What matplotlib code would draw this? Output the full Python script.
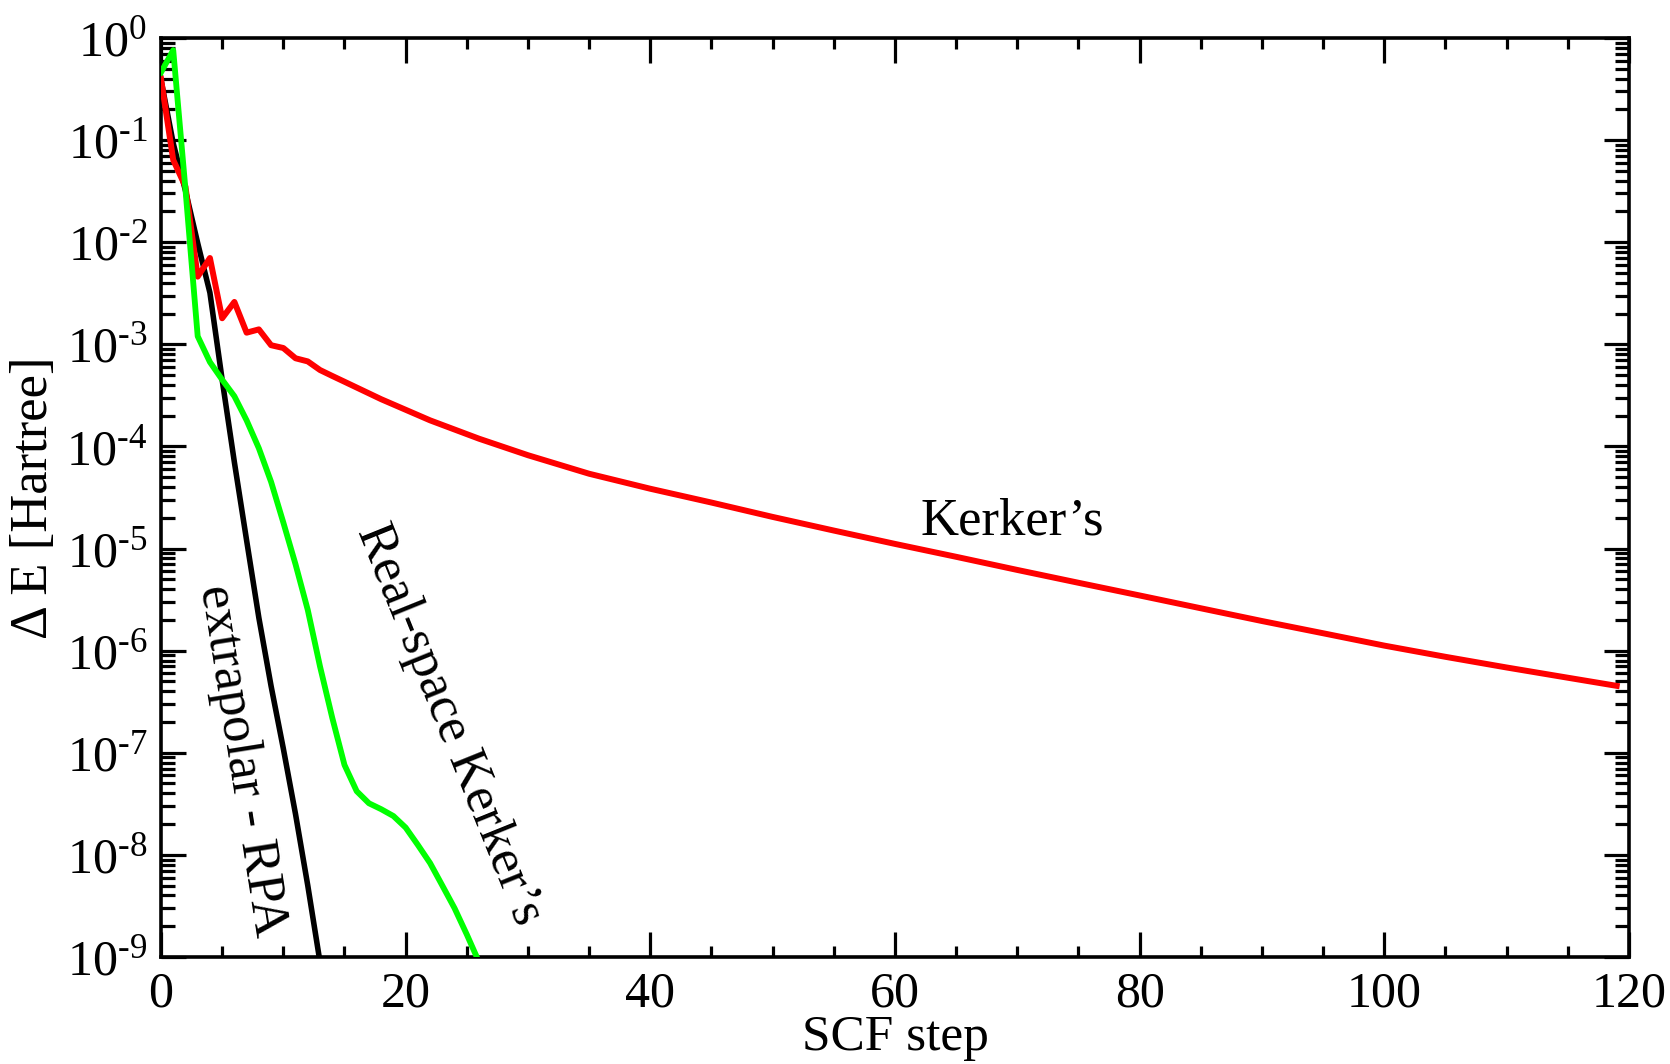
import numpy as np
import matplotlib
matplotlib.use("Agg")
import matplotlib.pyplot as plt
from matplotlib.ticker import LogLocator, FixedLocator, MultipleLocator, FuncFormatter

plt.rcParams['font.family'] = ['Liberation Serif', 'DejaVu Serif']
plt.rcParams['mathtext.fontset'] = 'custom'
plt.rcParams['mathtext.rm'] = 'Liberation Serif'
plt.rcParams['mathtext.it'] = 'Liberation Serif:italic'

# ---- data ----
kerker_x = [0, 1, 2, 3, 4, 5, 6, 7, 8, 9, 10, 11, 12, 13, 14, 15, 18, 22, 26, 30,
            35, 40, 45, 50, 55, 60, 65, 70, 75, 80, 85, 90, 95, 100, 105, 110, 115, 119]
kerker_y = [0.40, 0.064, 0.035, 0.0046, 0.0070, 0.0018, 0.0026, 0.0013, 0.0014,
            0.00098, 0.00092, 0.00073, 0.00068, 0.00056, 4.9e-4, 4.3e-4, 2.9e-4,
            1.8e-4, 1.19e-4, 8.2e-5, 5.4e-5, 3.85e-5, 2.82e-5, 2.04e-5, 1.50e-5,
            1.11e-5, 8.3e-6, 6.17e-6, 4.62e-6, 3.47e-6, 2.6e-6, 1.95e-6, 1.48e-6,
            1.12e-6, 8.7e-7, 6.84e-7, 5.43e-7, 4.52e-7]

rpa_x = [0, 1, 2, 3, 4, 5, 6, 7, 8, 9, 10, 11, 12, 13]
rpa_y = [0.39, 0.093, 0.032, 0.0098, 0.0032, 4.5e-4, 7.0e-5, 1.2e-5, 2.1e-6,
         4.5e-7, 1.1e-7, 2.5e-8, 5.0e-9, 8.9e-10]

rs_x = [0, 1, 2, 3, 4, 5, 6, 7, 8, 9, 10, 11, 12, 13, 14, 15, 16, 17, 18, 19,
        20, 21, 22, 23, 24, 25, 26]
rs_y = [0.46, 0.76, 0.033, 1.2e-3, 6.7e-4, 4.5e-4, 3.1e-4, 1.8e-4, 9.6e-5,
        4.5e-5, 1.8e-5, 7.0e-6, 2.5e-6, 7.0e-7, 2.2e-7, 7.6e-8, 4.2e-8, 3.2e-8,
        2.8e-8, 2.4e-8, 1.85e-8, 1.25e-8, 8.3e-9, 5.0e-9, 3.0e-9, 1.66e-9, 8.9e-10]

x_ticks = [0, 20, 40, 60, 80, 100, 120]
y_exponents = [0, -1, -2, -3, -4, -5, -6, -7, -8, -9]

fig = plt.figure(figsize=(16.7, 10.64), dpi=100)
ax = fig.add_axes([0.0964, 0.1006, 0.8790, 0.8637])

ax.plot(rpa_x, rpa_y, color='black', lw=4.0, zorder=2)
ax.plot(kerker_x, kerker_y, color='#ff0000', lw=4.3, zorder=3)
ax.plot(rs_x, rs_y, color='#00ff00', lw=4.2, zorder=4)

ax.set_yscale('log')
ax.set_xlim(0, 120)
ax.set_ylim(1e-9, 1)

ax.xaxis.set_major_locator(FixedLocator(x_ticks))
ax.xaxis.set_minor_locator(MultipleLocator(5))
ax.yaxis.set_major_locator(FixedLocator([10.0 ** e for e in y_exponents]))
ax.yaxis.set_minor_locator(LogLocator(base=10, subs=np.arange(2, 10), numticks=20))

def yfmt(v, pos):
    e = int(round(np.log10(v)))
    return r'$\mathregular{10^{%s}}$' % (str(e).replace('-', '\u2010'))

ax.yaxis.set_major_formatter(FuncFormatter(yfmt))
ax.yaxis.set_minor_formatter(FuncFormatter(lambda v, p: ''))

ax.tick_params(which='both', direction='in', top=True, right=True, width=2.3,
               labelsize=36, colors='black')
ax.tick_params(which='major', length=18)
ax.tick_params(axis='y', which='minor', length=10)
ax.tick_params(axis='x', which='minor', length=8)
ax.tick_params(axis='x', which='major', pad=10)
ax.tick_params(axis='y', which='major', pad=10)

for s in ax.spines.values():
    s.set_linewidth(2.6)

ax.set_xlabel('SCF step', fontsize=37, labelpad=-2)
ax.set_ylabel('\u0394 E [Hartree]', fontsize=38, labelpad=6)

ax.text(69.6, 1.86e-5, 'Kerker\u2019s', fontsize=38, ha='center', va='center')
ax.text(6.6, 8.3e-8, 'extrapolar - RPA', fontsize=38, ha='center', va='center',
        rotation=-81)
ax.text(23.6, 1.9e-7, 'Real-space Kerker\u2019s', fontsize=38, ha='center',
        va='center', rotation=-68)

fig.savefig('out.png', dpi=100)
